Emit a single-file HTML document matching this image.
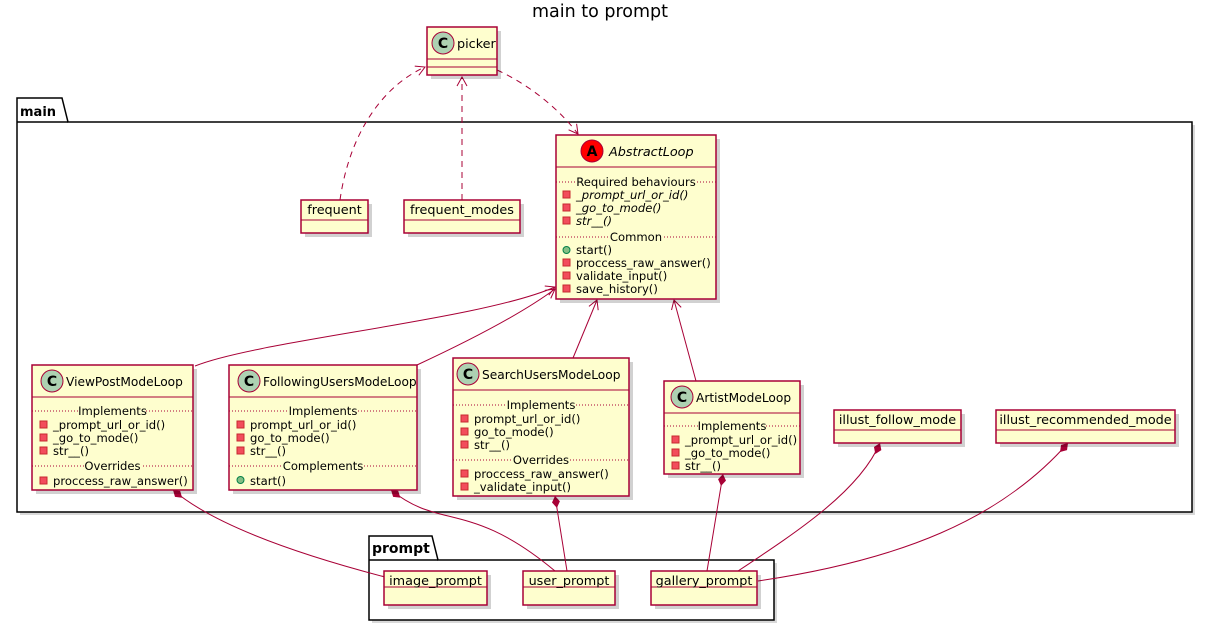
<!DOCTYPE html>
<html><head><meta charset="utf-8"><style>
body{margin:0;background:#fff}
svg text{font-family:"DejaVu Sans","Liberation Sans",sans-serif;fill:#000}
.b{fill:#FEFECE;stroke:#A80036;stroke-width:1.5}
.sh{fill:#000;opacity:.18}
.l{stroke:#A80036;stroke-width:1;fill:none}
.d{stroke:#A80036;stroke-width:1;fill:none;stroke-dasharray:6 5}
.sep{stroke:#A80036;stroke-width:1;stroke-dasharray:1 2}
.m{font-size:11.6px}
.n{font-size:12.2px}
.o{font-size:12.8px}
.pv{fill:#F24D5C;stroke:#C82930;stroke-width:1}
.pb{fill:#84BE84;stroke:#038048;stroke-width:1}
</style></head><body>
<svg width="1208" height="627" viewBox="0 0 1208 627" xmlns="http://www.w3.org/2000/svg">
<defs>
<marker id="ar" markerWidth="12" markerHeight="12" refX="10" refY="6" orient="auto" markerUnits="userSpaceOnUse"><path d="M1,1 L10,6 L1,11" fill="none" stroke="#A80036" stroke-width="1"/></marker>
<marker id="dm" markerWidth="16" markerHeight="10" refX="1" refY="5" orient="auto" markerUnits="userSpaceOnUse"><path d="M1,5 L7,1 L13,5 L7,9 Z" fill="#A80036"/></marker>
</defs>
<text x="600" y="17" font-size="17.5" text-anchor="middle">main to prompt</text>

<!-- main package -->
<rect x="20" y="125" width="1175" height="390" fill="#000" opacity=".15"/>
<path d="M17,98 H62 L68,122 H1192 V512 H17 Z" fill="#fff" stroke="#000" stroke-width="1.5"/>
<line x1="17" y1="122" x2="68" y2="122" stroke="#000" stroke-width="1.5"/>
<text x="20" y="116" font-size="13" font-weight="bold">main</text>

<!-- prompt package -->
<rect x="372" y="563" width="405" height="60" fill="#000" opacity=".15"/>
<path d="M369,536 H432 L438,560 H774 V620 H369 Z" fill="#fff" stroke="#000" stroke-width="1.5"/>
<line x1="369" y1="560" x2="438" y2="560" stroke="#000" stroke-width="1.5"/>
<text x="372" y="553" font-size="14" font-weight="bold">prompt</text>

<!-- edges -->
<path class="d" d="M340,200 C350,130 385,85 425,67" marker-end="url(#ar)"/>
<path class="d" d="M462,200 V77" marker-end="url(#ar)"/>
<path class="d" d="M497,70 C530,85 560,110 578,134" marker-end="url(#ar)"/>
<path class="l" d="M195,366 C260,340 480,320 555,287" marker-end="url(#ar)"/>
<path class="l" d="M417,365 C460,345 520,315 555,289" marker-end="url(#ar)"/>
<path class="l" d="M573,358 L597,300" marker-end="url(#ar)"/>
<path class="l" d="M696,381 L674,300" marker-end="url(#ar)"/>

<path class="l" d="M173,490 C220,530 320,560 385,577" marker-start="url(#dm)"/>
<path class="l" d="M391,490 C440,530 470,500 555,571" marker-start="url(#dm)"/>
<path class="l" d="M555,496 L567,571" marker-start="url(#dm)"/>
<path class="l" d="M723,474 L707,571" marker-start="url(#dm)"/>
<path class="l" d="M880,443 C860,490 800,530 738,571" marker-start="url(#dm)"/>
<path class="l" d="M1068,443 C1000,520 900,560 758,581" marker-start="url(#dm)"/>

<!-- picker -->
<rect x="431" y="31" width="70" height="48" class="sh"/>
<rect x="427" y="27" width="70" height="48" class="b"/>
<line x1="427" y1="59" x2="497" y2="59" class="l"/><line x1="427" y1="67" x2="497" y2="67" class="l"/>
<circle cx="443" cy="43" r="11" fill="#ADD1B2" stroke="#A80036"/><text x="443" y="48" font-size="14" font-weight="bold" text-anchor="middle">C</text>
<text x="457" y="48" class="o">picker</text>

<!-- frequent -->
<rect x="305" y="204" width="67" height="33" class="sh"/>
<rect x="301" y="200" width="67" height="33" class="b"/>
<line x1="301" y1="220" x2="368" y2="220" class="l"/>
<text x="334.5" y="214" class="o" text-anchor="middle">frequent</text>
<rect x="408" y="204" width="116" height="33" class="sh"/>
<rect x="404" y="200" width="116" height="33" class="b"/>
<line x1="404" y1="220" x2="520" y2="220" class="l"/>
<text x="462" y="214" class="o" text-anchor="middle">frequent_modes</text>

<!-- AbstractLoop -->
<rect x="560" y="139" width="160" height="164" class="sh"/>
<rect x="556" y="135" width="160" height="164" class="b"/>
<line x1="556" y1="167" x2="716" y2="167" class="l"/>
<circle cx="592" cy="151" r="11" fill="#FF0000" stroke="#A80036"/><text x="592" y="156" font-size="14" font-weight="bold" text-anchor="middle">A</text>
<text x="609" y="156" class="o" font-style="italic">AbstractLoop</text>
<line x1="556" y1="182" x2="716" y2="182" class="sep"/>
<rect x="576" y="176" width="120" height="10" fill="#FEFECE"/>
<text x="636" y="186" class="m" text-anchor="middle">Required behaviours</text>
<rect x="563" y="191" width="7" height="7" class="pv"/><text x="576" y="199" class="m" font-style="italic">_prompt_url_or_id()</text>
<rect x="563" y="204" width="7" height="7" class="pv"/><text x="576" y="212" class="m" font-style="italic">_go_to_mode()</text>
<rect x="563" y="217" width="7" height="7" class="pv"/><text x="576" y="225" class="m" font-style="italic">str__()</text>
<line x1="556" y1="237" x2="716" y2="237" class="sep"/>
<rect x="610" y="231" width="52" height="10" fill="#FEFECE"/>
<text x="636" y="241" class="m" text-anchor="middle">Common</text>
<circle cx="566.5" cy="250" r="3.5" class="pb"/><text x="576" y="254" class="m">start()</text>
<rect x="563" y="259" width="7" height="7" class="pv"/><text x="576" y="267" class="m">proccess_raw_answer()</text>
<rect x="563" y="272" width="7" height="7" class="pv"/><text x="576" y="280" class="m">validate_input()</text>
<rect x="563" y="285" width="7" height="7" class="pv"/><text x="576" y="293" class="m">save_history()</text>

<!-- ViewPostModeLoop -->
<rect x="36" y="369" width="161" height="125" class="sh"/>
<rect x="32" y="365" width="161" height="125" class="b"/>
<line x1="32" y1="397" x2="193" y2="397" class="l"/>
<circle cx="52" cy="381" r="11" fill="#ADD1B2" stroke="#A80036"/><text x="52" y="386" font-size="14" font-weight="bold" text-anchor="middle">C</text>
<text x="66" y="386" class="n">ViewPostModeLoop</text>
<line x1="32" y1="411" x2="193" y2="411" class="sep"/>
<rect x="79" y="405" width="67" height="10" fill="#FEFECE"/>
<text x="112.5" y="415" class="m" text-anchor="middle">Implements</text>
<rect x="40" y="421" width="7" height="7" class="pv"/><text x="53" y="429" class="m">_prompt_url_or_id()</text>
<rect x="40" y="434" width="7" height="7" class="pv"/><text x="53" y="442" class="m">_go_to_mode()</text>
<rect x="40" y="447" width="7" height="7" class="pv"/><text x="53" y="455" class="m">str__()</text>
<line x1="32" y1="466" x2="193" y2="466" class="sep"/>
<rect x="84" y="460" width="57" height="10" fill="#FEFECE"/>
<text x="112.5" y="470" class="m" text-anchor="middle">Overrides</text>
<rect x="40" y="477" width="7" height="7" class="pv"/><text x="53" y="485" class="m">proccess_raw_answer()</text>

<!-- FollowingUsersModeLoop -->
<rect x="233" y="369" width="188" height="125" class="sh"/>
<rect x="229" y="365" width="188" height="125" class="b"/>
<line x1="229" y1="397" x2="417" y2="397" class="l"/>
<circle cx="249" cy="381" r="11" fill="#ADD1B2" stroke="#A80036"/><text x="249" y="386" font-size="14" font-weight="bold" text-anchor="middle">C</text>
<text x="263" y="386" class="n">FollowingUsersModeLoop</text>
<line x1="229" y1="411" x2="417" y2="411" class="sep"/>
<rect x="289" y="405" width="67" height="10" fill="#FEFECE"/>
<text x="323" y="415" class="m" text-anchor="middle">Implements</text>
<rect x="237" y="421" width="7" height="7" class="pv"/><text x="250" y="429" class="m">prompt_url_or_id()</text>
<rect x="237" y="434" width="7" height="7" class="pv"/><text x="250" y="442" class="m">go_to_mode()</text>
<rect x="237" y="447" width="7" height="7" class="pv"/><text x="250" y="455" class="m">str__()</text>
<line x1="229" y1="466" x2="417" y2="466" class="sep"/>
<rect x="283" y="460" width="80" height="10" fill="#FEFECE"/>
<text x="323" y="470" class="m" text-anchor="middle">Complements</text>
<circle cx="240.5" cy="480" r="3.5" class="pb"/><text x="250" y="485" class="m">start()</text>

<!-- SearchUsersModeLoop -->
<rect x="457" y="362" width="176" height="138" class="sh"/>
<rect x="453" y="358" width="176" height="138" class="b"/>
<line x1="453" y1="390" x2="629" y2="390" class="l"/>
<circle cx="468" cy="374" r="11" fill="#ADD1B2" stroke="#A80036"/><text x="468" y="379" font-size="14" font-weight="bold" text-anchor="middle">C</text>
<text x="482" y="379" class="n">SearchUsersModeLoop</text>
<line x1="453" y1="405" x2="629" y2="405" class="sep"/>
<rect x="507" y="399" width="67" height="10" fill="#FEFECE"/>
<text x="541" y="409" class="m" text-anchor="middle">Implements</text>
<rect x="461" y="415" width="7" height="7" class="pv"/><text x="474" y="423" class="m">prompt_url_or_id()</text>
<rect x="461" y="428" width="7" height="7" class="pv"/><text x="474" y="436" class="m">go_to_mode()</text>
<rect x="461" y="441" width="7" height="7" class="pv"/><text x="474" y="449" class="m">str__()</text>
<line x1="453" y1="460" x2="629" y2="460" class="sep"/>
<rect x="512" y="454" width="57" height="10" fill="#FEFECE"/>
<text x="541" y="464" class="m" text-anchor="middle">Overrides</text>
<rect x="461" y="470" width="7" height="7" class="pv"/><text x="474" y="478" class="m">proccess_raw_answer()</text>
<rect x="461" y="483" width="7" height="7" class="pv"/><text x="474" y="491" class="m">_validate_input()</text>

<!-- ArtistModeLoop -->
<rect x="668" y="385" width="136" height="93" class="sh"/>
<rect x="664" y="381" width="136" height="93" class="b"/>
<line x1="664" y1="413" x2="800" y2="413" class="l"/>
<circle cx="682" cy="397" r="11" fill="#ADD1B2" stroke="#A80036"/><text x="682" y="402" font-size="14" font-weight="bold" text-anchor="middle">C</text>
<text x="696" y="402" class="n">ArtistModeLoop</text>
<line x1="664" y1="426" x2="800" y2="426" class="sep"/>
<rect x="698" y="420" width="67" height="10" fill="#FEFECE"/>
<text x="732" y="430" class="m" text-anchor="middle">Implements</text>
<rect x="672" y="436" width="7" height="7" class="pv"/><text x="685" y="444" class="m">_prompt_url_or_id()</text>
<rect x="672" y="449" width="7" height="7" class="pv"/><text x="685" y="457" class="m">_go_to_mode()</text>
<rect x="672" y="462" width="7" height="7" class="pv"/><text x="685" y="470" class="m">str__()</text>

<!-- illust boxes -->
<rect x="838" y="414" width="127" height="33" class="sh"/>
<rect x="834" y="410" width="127" height="33" class="b"/>
<line x1="834" y1="430" x2="961" y2="430" class="l"/>
<text x="897.5" y="424" class="o" text-anchor="middle">illust_follow_mode</text>
<rect x="1000" y="414" width="179" height="33" class="sh"/>
<rect x="996" y="410" width="179" height="33" class="b"/>
<line x1="996" y1="430" x2="1175" y2="430" class="l"/>
<text x="1085.5" y="424" class="o" text-anchor="middle">illust_recommended_mode</text>

<!-- prompt boxes -->
<rect x="388" y="575" width="103" height="34" class="sh"/>
<rect x="384" y="571" width="103" height="34" class="b"/>
<line x1="384" y1="587" x2="487" y2="587" class="l"/>
<text x="435.5" y="585" class="o" text-anchor="middle">image_prompt</text>
<rect x="527" y="575" width="92" height="34" class="sh"/>
<rect x="523" y="571" width="92" height="34" class="b"/>
<line x1="523" y1="587" x2="615" y2="587" class="l"/>
<text x="569" y="585" class="o" text-anchor="middle">user_prompt</text>
<rect x="655" y="575" width="106" height="34" class="sh"/>
<rect x="651" y="571" width="106" height="34" class="b"/>
<line x1="651" y1="587" x2="757" y2="587" class="l"/>
<text x="704" y="585" class="o" text-anchor="middle">gallery_prompt</text>
</svg>
</body></html>
